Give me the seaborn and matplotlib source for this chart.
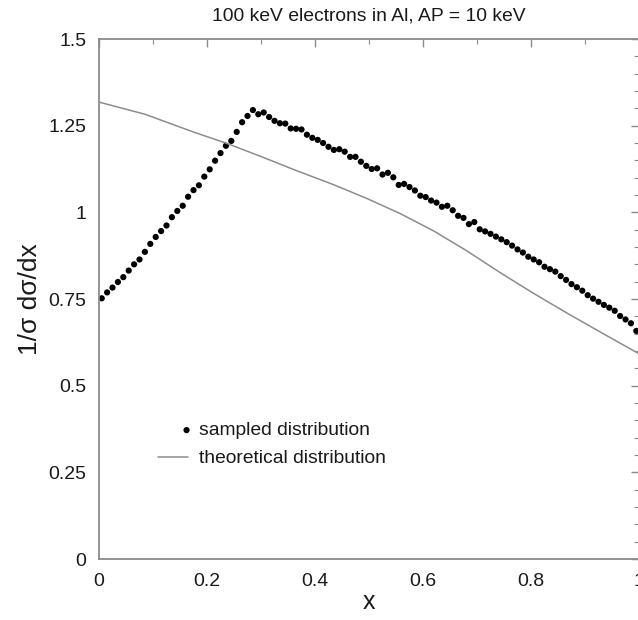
import numpy as np
import pandas as pd
import matplotlib
matplotlib.use("Agg")
import matplotlib.pyplot as plt
import seaborn as sns
from matplotlib.ticker import MultipleLocator
from matplotlib.legend_handler import HandlerPathCollection
from matplotlib.collections import PathCollection

# ---- data ----
x_sampled = [0.005, 0.015, 0.025, 0.035, 0.045, 0.055, 0.065, 0.075, 0.085, 0.095,
             0.105, 0.115, 0.125, 0.135, 0.145, 0.155, 0.165, 0.175, 0.185, 0.195,
             0.205, 0.215, 0.225, 0.235, 0.245, 0.255, 0.265, 0.275, 0.285, 0.295,
             0.305, 0.315, 0.325, 0.335, 0.345, 0.355, 0.365, 0.375, 0.385, 0.395,
             0.405, 0.415, 0.425, 0.435, 0.445, 0.455, 0.465, 0.475, 0.485, 0.495,
             0.505, 0.515, 0.525, 0.535, 0.545, 0.555, 0.565, 0.575, 0.585, 0.595,
             0.605, 0.615, 0.625, 0.635, 0.645, 0.655, 0.665, 0.675, 0.685, 0.695,
             0.705, 0.715, 0.725, 0.735, 0.745, 0.755, 0.765, 0.775, 0.785, 0.795,
             0.805, 0.815, 0.825, 0.835, 0.845, 0.855, 0.865, 0.875, 0.885, 0.895,
             0.905, 0.915, 0.925, 0.935, 0.945, 0.955, 0.965, 0.975, 0.985, 0.995]
y_sampled = [0.752, 0.769, 0.783, 0.799, 0.813, 0.832, 0.850, 0.864, 0.886, 0.909,
             0.929, 0.946, 0.962, 0.986, 1.004, 1.019, 1.045, 1.064, 1.078, 1.103,
             1.124, 1.149, 1.171, 1.192, 1.206, 1.232, 1.260, 1.278, 1.295, 1.283,
             1.288, 1.275, 1.264, 1.257, 1.256, 1.242, 1.241, 1.239, 1.224, 1.215,
             1.209, 1.200, 1.189, 1.180, 1.182, 1.175, 1.160, 1.160, 1.146, 1.134,
             1.125, 1.127, 1.109, 1.114, 1.101, 1.079, 1.082, 1.073, 1.063, 1.048,
             1.044, 1.034, 1.028, 1.016, 1.019, 1.006, 0.990, 0.984, 0.966, 0.972,
             0.951, 0.945, 0.938, 0.930, 0.922, 0.914, 0.904, 0.893, 0.884, 0.872,
             0.864, 0.856, 0.843, 0.836, 0.829, 0.816, 0.805, 0.793, 0.784, 0.774,
             0.761, 0.751, 0.742, 0.733, 0.725, 0.716, 0.701, 0.691, 0.680, 0.658]

x_theory = [0.0, 0.085, 0.178, 0.233, 0.300, 0.363, 0.434, 0.496, 0.557,
            0.619, 0.681, 0.743, 0.804, 0.866, 0.928, 1.0]
y_theory = [1.318, 1.283, 1.230, 1.201, 1.161, 1.122, 1.080, 1.040, 0.997,
            0.947, 0.889, 0.826, 0.767, 0.710, 0.655, 0.592]

x_ticks = [0, 0.2, 0.4, 0.6, 0.8, 1.0]
x_tick_labels = ["0", "0.2", "0.4", "0.6", "0.8", "1"]
y_ticks = [0, 0.25, 0.5, 0.75, 1.0, 1.25, 1.5]
y_tick_labels = ["0", "0.25", "0.5", "0.75", "1", "1.25", "1.5"]

title = "100 keV electrons in Al, AP = 10 keV"
label_sampled = "sampled distribution"
label_theory = "theoretical distribution"

df_s = pd.DataFrame({"x": x_sampled, "y": y_sampled})
df_t = pd.DataFrame({"x": x_theory, "y": y_theory})

# ---- style ----
sns.set_theme(style="white")
plt.rcParams["font.family"] = ["Liberation Sans", "DejaVu Sans"]
spine_col = "#8a8a8a"
text_col = "#1a1a1a"

W, H = 638, 620
fig = plt.figure(figsize=(W / 100, H / 100), dpi=100)
ax = fig.add_axes([99 / W, 1 - 559 / H, 540 / W, 520 / H])

sns.lineplot(data=df_t, x="x", y="y", ax=ax, color="#8c8c8c", linewidth=1.1,
             label=label_theory, sort=False)
sns.scatterplot(data=df_s, x="x", y="y", ax=ax, color="black", s=20,
                edgecolor="none", label=label_sampled)

ax.set_xlim(0, 1)
ax.set_ylim(0, 1.5)
ax.set_xticks(x_ticks)
ax.set_xticklabels(x_tick_labels)
ax.set_yticks(y_ticks)
ax.set_yticklabels(y_tick_labels)
ax.xaxis.set_minor_locator(MultipleLocator(0.1))
ax.yaxis.set_minor_locator(MultipleLocator(0.05))

ax.tick_params(which="both", direction="in", top=True, right=True,
               color=spine_col, labelcolor=text_col, labelsize=14)
ax.tick_params(which="major", length=6, width=1.0)
ax.tick_params(which="minor", length=3.5, width=0.8)
ax.tick_params(axis="x", which="major", pad=10)
ax.tick_params(axis="y", which="major", pad=9)
for sp in ax.spines.values():
    sp.set_color(spine_col)
    sp.set_linewidth(1.3)

ax.set_xlabel("x", fontsize=18, color=text_col, labelpad=0)
ax.set_ylabel("1/σ dσ/dx", fontsize=19, color=text_col, labelpad=5)
ax.set_title(title, fontsize=13.9, color=text_col, pad=13)


class RightDot(HandlerPathCollection):
    def get_xdata(self, legend, xdescent, ydescent, width, height, fontsize):
        return [-xdescent + width - 1], [-xdescent + width - 1]


handles, labels = ax.get_legend_handles_labels()
order = [labels.index(label_sampled), labels.index(label_theory)]
leg = ax.legend([handles[i] for i in order], [labels[i] for i in order],
                loc="upper left", bbox_to_anchor=(0.095, 0.279), frameon=False,
                fontsize=13.9, handlelength=1.55, handletextpad=0.55,
                labelspacing=0.55, borderaxespad=0,
                handler_map={PathCollection: RightDot()})
for t in leg.get_texts():
    t.set_color(text_col)

fig.savefig("out.png", dpi=100)
